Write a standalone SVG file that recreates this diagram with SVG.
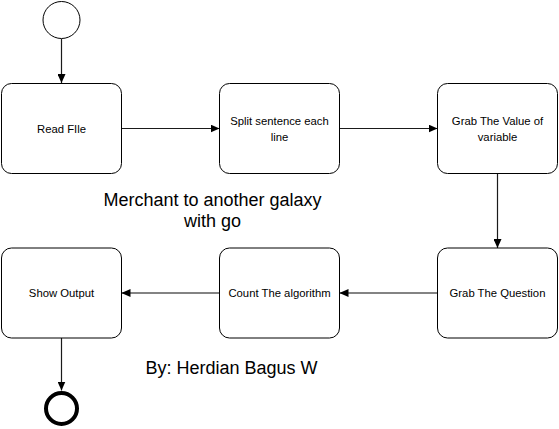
<svg xmlns="http://www.w3.org/2000/svg" width="559" height="429" viewBox="0 0 559 429">
<style>
.box{fill:#fff;stroke:#000;stroke-width:1}
.lbl{font-family:"Liberation Sans",Arial,sans-serif;font-size:11.3px;fill:#000;text-anchor:middle}
.big{font-family:"Liberation Sans",Arial,sans-serif;font-size:18px;fill:#000;text-anchor:middle}
.c{fill:none;stroke:#1a1a1a;stroke-width:1.2}
.g{fill:none;stroke:#5a5a5a;stroke-width:1.4}
</style>
<defs>
<marker id="ah" markerWidth="9" markerHeight="8" refX="9" refY="4" orient="auto" markerUnits="userSpaceOnUse">
<path d="M0,0 L9,4 L0,8 Z" fill="#000"/>
</marker>
</defs>
<rect width="559" height="429" fill="#fff"/>
<g id="connectors">
<line class="c" x1="61.5" y1="39" x2="61.5" y2="83" marker-end="url(#ah)"/>
<line class="c" x1="121.5" y1="128.5" x2="219.5" y2="128.5" marker-end="url(#ah)"/>
<line class="c" x1="339.5" y1="128.5" x2="437.5" y2="128.5" marker-end="url(#ah)"/>
<line class="c" x1="497.5" y1="173.5" x2="497.5" y2="248" marker-end="url(#ah)"/>
<line class="g" x1="437.5" y1="293" x2="339.5" y2="293" marker-end="url(#ah)"/>
<line class="g" x1="219.5" y1="293" x2="121.5" y2="293" marker-end="url(#ah)"/>
<line class="c" x1="61.5" y1="338" x2="61.5" y2="390.5" marker-end="url(#ah)"/>
</g>
<g id="start"><circle cx="61.5" cy="20" r="18.5" fill="#fff" stroke="#000" stroke-width="1"/></g>
<g id="read-file"><rect class="box" x="1.5" y="83.5" width="120" height="90" rx="10"/><text class="lbl" x="61.5" y="132.5">Read FIle</text></g>
<g id="split"><rect class="box" x="219.5" y="83.5" width="120" height="90" rx="10"/><text class="lbl" x="279.5" y="124.5">Split sentence each</text><text class="lbl" x="279.5" y="140.5">line</text></g>
<g id="grab-value"><rect class="box" x="437.5" y="83.5" width="120" height="90" rx="10"/><text class="lbl" x="497.5" y="124.5">Grab The Value of</text><text class="lbl" x="497.5" y="140.5">variable</text></g>
<g id="grab-question"><rect class="box" x="437.5" y="248" width="120" height="90" rx="10"/><text class="lbl" x="497.5" y="297">Grab The Question</text></g>
<g id="count"><rect class="box" x="219.5" y="248" width="120" height="90" rx="10"/><text class="lbl" x="279.5" y="297">Count The algorithm</text></g>
<g id="show-output"><rect class="box" x="1.5" y="248" width="120" height="90" rx="10"/><text class="lbl" x="61.5" y="297">Show Output</text></g>
<g id="end"><circle cx="61.5" cy="408.5" r="15.5" fill="#fff" stroke="#000" stroke-width="4"/></g>
<g id="title"><text class="big" x="212.5" y="206">Merchant to another galaxy</text><text class="big" x="212.5" y="227">with go</text></g>
<g id="author"><text class="big" x="231.5" y="373.5">By: Herdian Bagus W</text></g>
</svg>
